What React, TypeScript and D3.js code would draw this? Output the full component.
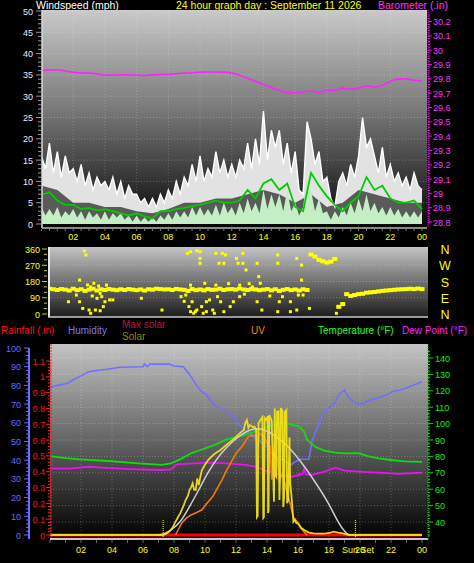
import React from "react";
import * as d3 from "d3";

const FONT = "'Liberation Sans', Arial, sans-serif";

const hourLabels = ["02", "04", "06", "08", "10", "12", "14", "16", "18", "20", "22", "00"];
const windTicks = [0, 5, 10, 15, 20, 25, 30, 35, 40, 45, 50];
const baroTicks = [28.8, 28.9, 29, 29.1, 29.2, 29.3, 29.4, 29.5, 29.6, 29.7, 29.8, 29.9, 30, 30.1, 30.2];
const dirTicks = [0, 90, 180, 270, 360];
const compassLetters = ["N", "E", "S", "W", "N"];
const humTicks = [0, 10, 20, 30, 40, 50, 60, 70, 80, 90, 100];
const rainTicks = [0, 0.1, 0.2, 0.3, 0.4, 0.5, 0.6, 0.7, 0.8, 0.9, 1, 1.1];
const tempTicks = [40, 50, 60, 70, 80, 90, 100, 110, 120, 130, 140];

// wind gust, every 15 minutes (mph)
const windGust = [
  16, 13, 19, 12, 17, 11, 16, 12, 13, 10, 14, 9, 12, 8, 11, 9, 10, 8, 11, 7, 10, 6, 9, 7,
  7, 5, 6, 4, 6, 4, 7, 5, 8, 6, 10, 7, 11, 9, 14, 10, 16, 10, 13, 11, 17, 12, 15, 11,
  14, 11, 15, 13, 19, 13, 20, 14, 26.5, 15, 22, 18, 22, 14, 19, 12, 17, 8, 7, 24,
  20, 14, 17, 10, 11, 6, 4, 10, 12, 9, 14, 11, 16, 25, 18, 20, 16, 12, 18, 11,
  14, 10, 12, 9, 11, 8, 12, 9, 8,
];
// dark shading under gusts, hourly
const windShade = [9, 8, 5, 5, 4, 4, 3, 2.5, 3.5, 5, 5, 6, 6, 7, 8, 7, 5, 7, 4, 5, 8, 7, 6, 5, 5];
// wind speed, every 15 minutes
const windSpeed = [
  4, 2, 3.5, 2, 4, 1.5, 3, 2, 3.5, 1.5, 3, 1, 3, 1.5, 2.5, 1, 3, 1, 2.5, 1.5, 2.5, 1, 2, 0.5,
  2, 0.5, 1.5, 0.5, 1.5, 0.5, 2, 1, 2.5, 1, 3, 1.5, 3, 1.5, 4, 2, 4, 2, 3.5, 2, 4.5, 2, 5, 2.5,
  4, 2, 5, 2.5, 6, 3, 5, 2.5, 8, 3.5, 7, 4, 7, 3, 8, 3, 5, 2, 4, 11, 8, 3, 6, 2.5,
  3, 1, 3, 1.5, 4, 2, 5, 2.5, 6, 3, 7, 3, 5, 2.5, 4, 2, 4, 2, 3.5, 1.5, 3, 1.5, 3, 1.5, 3,
];
// average wind, every 30 minutes
const windAvg = [
  6.8, 7.5, 5.5, 4.5, 4.5, 3.5, 3.8, 3.2, 3.5, 3.0, 2.5, 2.0, 2.5, 1.8, 1.3, 3.0, 3.0, 3.5,
  3.8, 4.2, 4.5, 5.0, 5.5, 5.0, 5.0, 5.5, 8.0, 6.0, 9.5, 10.5, 8.0, 9.5, 4.0, 3.0, 12.0, 9.0,
  6.5, 4.5, 3.0, 5.0, 6.5, 11.0, 8.0, 9.0, 6.0, 5.0, 5.0, 5.5, 3.5,
];
// barometer, every 30 minutes (in)
const barometer = [
  29.86, 29.862, 29.864, 29.855, 29.845, 29.842, 29.84, 29.835, 29.826, 29.826, 29.828, 29.828,
  29.826, 29.824, 29.828, 29.83, 29.832, 29.836, 29.84, 29.843, 29.847, 29.848, 29.848, 29.847,
  29.842, 29.825, 29.805, 29.782, 29.76, 29.74, 29.72, 29.705, 29.703, 29.71, 29.715, 29.706,
  29.72, 29.72, 29.735, 29.728, 29.735, 29.75, 29.742, 29.757, 29.782, 29.8, 29.8, 29.79, 29.785,
];
// wind direction, every 15 minutes (deg)
const windDir = [
  138, 135, 140, 137, 133, 138, 135, 130, 140, 132, 137, 128, 135, 140, 130, 137,
  133, 138, 135, 132, 137, 133, 138, 135, 132, 136, 130, 137, 135, 140, 138, 136,
  137, 133, 139, 136, 134, 128, 138, 132, 136, 131, 138, 134, 135, 140, 133, 137,
  138, 135, 141, 136, 133, 138, 136, 132, 135, 138, 131, 137, 128, 134, 138, 132,
  136, 130, 137, 133, 330, 318, 300, 292, 285, 290, 305, 40, 55, 110, 100, 105,
  110, 112, 118, 120, 122, 125, 128, 130, 132, 134, 136, 137, 138, 140, 138, 141, 138,
];
// scattered direction readings [hour, deg]
const windDirScatter: [number, number][] = [
  [1.7, 68], [2.4, 188], [2.4, 68], [2.6, 31], [2.7, 350], [2.8, 327], [2.9, 161], [3.0, 22],
  [3.1, 4], [3.1, 150], [3.3, 170], [3.4, 22], [3.5, 87], [3.6, 155], [3.7, 114], [3.7, 18],
  [3.8, 96], [3.9, 41], [4.0, 68], [4.3, 78], [4.5, 78], [2.2, 105], [3.2, 100], [4.1, 160],
  [6.3, 87], [7.6, 22], [8.8, 96], [9.0, 70], [9.1, 105], [9.2, 336], [9.3, 41], [9.4, 345],
  [9.4, 13], [9.5, 68], [9.6, 4], [9.7, 13], [9.8, 351], [9.8, 22], [10.0, 345], [10.0, 308],
  [10.0, 281], [10.1, 41], [10.2, 4], [10.4, 13], [10.4, 68], [10.6, 78], [10.8, 22], [10.9, 4],
  [11.0, 336], [11.1, 96], [11.2, 281], [11.3, 68], [11.4, 336], [11.5, 281], [11.5, 13],
  [11.6, 327], [11.9, 41], [12.1, 68], [9.4, 160], [10.3, 170], [11.0, 160], [11.8, 168],
  [12.3, 308], [12.4, 281], [12.7, 336], [12.7, 281], [12.9, 244], [12.5, 160], [12.8, 110],
  [13.1, 168], [13.6, 281], [13.7, 207], [12.5, 96], [13.6, 68], [13.9, 22], [13.3, 150],
  [13.8, 170], [14.9, 327], [14.9, 281], [16.1, 308], [16.4, 271], [16.4, 188], [15.0, 68],
  [15.7, 68], [16.2, 105], [16.5, 105], [14.9, 13], [15.7, 13], [16.1, 22], [16.9, 31],
  [15.2, 96], [14.4, 100], [18.6, 4],
];

const humidity: [number, number][] = [
  [0, 79], [0.5, 80], [1.1, 81], [1.5, 83], [1.9, 84.7], [2.5, 87.3], [3.0, 88], [3.7, 88.6],
  [4.5, 89.7], [5.2, 89.8], [6.0, 90], [6.1, 91.4], [6.3, 90], [6.45, 91.4], [7.0, 91.4],
  [7.7, 91.4], [8.0, 90.4], [8.6, 90], [9.03, 85.6], [9.46, 80], [9.68, 77.5], [10.1, 74.9],
  [10.5, 70.4], [10.75, 68.4], [11.35, 66.8], [11.8, 63.3], [12.25, 58.8], [12.7, 55.3],
  [13.1, 52.6], [13.55, 49.9], [14.0, 47.2], [14.4, 42.8], [14.8, 41], [15.2, 39.2], [15.5, 37.4],
  [15.7, 38.5], [16.1, 40.5], [16.7, 40.5], [16.9, 50], [17.1, 54.4], [17.4, 60.6], [17.75, 66.8],
  [18.3, 70], [18.7, 75.7], [19.0, 77.5], [19.3, 73.2], [19.8, 70], [20.2, 70.4], [20.6, 72],
  [21.3, 73.6], [21.7, 74.9], [22.1, 76.7], [22.6, 77.5], [23.2, 79.3], [24, 82],
];
const temperature: [number, number][] = [
  [0, 80.2], [1, 79], [1.9, 78.2], [3.8, 77.2], [5.7, 75.8], [7.2, 74.8], [7.8, 75.8], [8.4, 78.2],
  [9.1, 81.9], [9.7, 83.9], [10.6, 86.9], [11.4, 90.4], [12.3, 92.4], [12.9, 94.1], [13.5, 96.1],
  [14.2, 98.5], [14.8, 100.2], [15.4, 99.8], [16.1, 98.1], [16.4, 95.1], [16.6, 90], [17.1, 85.9],
  [17.7, 83.5], [18.4, 82.3], [19.0, 81.9], [19.9, 82], [20.5, 80.2], [21.2, 78.8], [22.0, 77.8],
  [22.9, 77], [24, 76.7],
];
const dewPoint: [number, number][] = [
  [0, 72.7], [1.2, 72.5], [2.5, 73.7], [3.6, 73], [5.1, 72.3], [7.2, 71.7], [7.8, 72], [8.2, 75.2],
  [9.3, 75.8], [10.3, 76.2], [11.4, 75.8], [12.6, 74.8], [13.3, 73.7], [13.9, 71.3], [14.8, 68.7],
  [15.6, 67.6], [16.3, 69.3], [16.4, 72.7], [16.5, 69], [16.9, 68.7], [17.7, 70.7], [18.4, 73.1],
  [19.0, 71.3], [19.9, 70.7], [21.2, 70.1], [22.5, 69.3], [24, 70.1],
];
const maxSolar: [number, number][] = [
  [7.0, 0], [7.4, 10], [7.8, 40], [8.4, 100], [9.0, 238], [9.6, 378], [10.2, 532], [11.0, 686],
  [11.9, 804], [12.7, 876], [13.3, 896], [13.7, 894], [14.5, 840], [15.4, 742], [16.2, 616],
  [17.1, 448], [18.0, 266], [18.6, 98], [19.1, 14], [19.3, 0],
];
const solar: [number, number][] = [
  [0, 0], [7.3, 0], [7.5, 10], [7.7, 28], [7.9, 60], [8.1, 112], [8.3, 160], [8.4, 182], [8.6, 240],
  [8.75, 294], [8.9, 330], [9.0, 378], [9.1, 400], [9.2, 434], [9.3, 380], [9.4, 378], [9.5, 476],
  [9.6, 420], [9.7, 490], [9.8, 546], [10.0, 590], [10.2, 630], [10.6, 680], [11.0, 714],
  [11.5, 770], [11.9, 812], [12.2, 850], [12.5, 882], [12.6, 940], [12.7, 966], [12.8, 900],
  [12.9, 924], [13.1, 905], [13.2, 910], [13.3, 880], [13.35, 150], [13.4, 160], [13.45, 938],
  [13.55, 960], [13.7, 990], [13.76, 143], [13.8, 150], [13.85, 983], [13.95, 966], [14.05, 1000],
  [14.07, 185], [14.1, 200], [14.15, 1008], [14.3, 960], [14.45, 280], [14.5, 1064], [14.55, 500],
  [14.6, 490], [14.65, 1036], [14.75, 1040], [14.8, 294], [14.84, 462], [14.9, 1067], [15.0, 1040],
  [15.05, 235], [15.1, 320], [15.15, 1034], [15.25, 1050], [15.3, 266], [15.37, 294], [15.45, 820],
  [15.5, 434], [15.6, 300], [15.7, 110], [15.8, 126], [15.9, 100], [16.0, 98], [16.2, 60],
  [16.4, 42], [16.7, 20], [17.0, 14], [17.5, 12], [17.8, 14], [18.1, 20], [18.3, 28], [18.6, 20],
  [18.9, 14], [19.1, 6], [19.3, 0], [24, 0],
];
const uvIndex: [number, number][] = [
  [0, 0], [8.1, 0], [8.3, 0.5], [8.5, 1.0], [8.8, 1.4], [9.1, 1.67], [9.5, 1.9], [9.8, 2.1],
  [10.1, 2.6], [10.5, 3.2], [10.8, 3.9], [11.1, 4.6], [11.4, 5.4], [11.7, 6.1], [12.0, 6.8],
  [12.4, 7.4], [12.8, 8.2], [13.0, 8.3], [13.3, 8.3], [13.4, 7.4], [13.5, 8.5], [13.8, 8.2],
  [14.0, 7.6], [14.2, 7.4], [14.3, 4.6], [14.4, 6.9], [14.6, 6.5], [14.7, 6.25], [14.8, 4.6],
  [15.0, 5.1], [15.3, 3.5], [15.5, 2.6], [15.7, 1.5], [16.0, 1.0], [16.2, 0.55], [16.5, 0.1],
  [16.6, 0], [24, 0],
];
const rainfall: [number, number][] = [[0, 0], [24, 0]];
const sunEvents = [7.3, 19.7];

const fmt = (v: number) => String(Number(v.toFixed(2)));

export default function App() {
  const W = 474;
  const H = 563;

  const top = { x0: 42, x1: 427, y0: 10, y1: 228 };
  const mid = { x0: 48, x1: 428, y0: 247, y1: 317 };
  const bot = { x0: 50, x1: 428, y0: 344, y1: 539 };

  const xTop = d3.scaleLinear().domain([0, 24]).range([41.5, 422]);
  const yWind = d3.scaleLinear().domain([0, 50]).range([224, 11]);
  const yBaro = d3.scaleLinear().domain([28.8, 30.2]).range([222, 21.6]);
  const yDir = d3.scaleLinear().domain([0, 360]).range([314, 249]);
  const xBot = d3.scaleLinear().domain([0, 24]).range([50, 422]);
  const yHum = d3.scaleLinear().domain([0, 100]).range([535, 348]);
  const yRain = d3.scaleLinear().domain([0, 1.1]).range([535, 361]);
  const yTemp = d3.scaleLinear().domain([40, 140]).range([522, 358]);
  const ySolar = d3.scaleLinear().domain([0, 1000]).range([535, 416]);
  const yUV = d3.scaleLinear().domain([0, 10]).range([535, 415]);

  const gustArea = d3
    .area<number>()
    .x((_, i) => xTop(i * 0.25))
    .y0(yWind(0))
    .y1((d) => yWind(d));
  const gustLine = d3
    .line<number>()
    .x((_, i) => xTop(i * 0.25))
    .y((d) => yWind(d));
  const shadeArea = d3
    .area<number>()
    .x((_, i) => xTop(i))
    .y0(yWind(0))
    .y1((d) => yWind(d));
  const speedArea = d3
    .area<number>()
    .x((_, i) => xTop(i * 0.25))
    .y0(yWind(0))
    .y1((d) => yWind(d));
  const avgLine = d3
    .line<number>()
    .x((_, i) => xTop(i * 0.5))
    .y((d) => yWind(d));
  const baroLine = d3
    .line<number>()
    .x((_, i) => xTop(i * 0.5))
    .y((d) => yBaro(d))
    .curve(d3.curveMonotoneX);

  const pairLine = (y: d3.ScaleLinear<number, number>, curve: d3.CurveFactory = d3.curveLinear) =>
    d3
      .line<[number, number]>()
      .x((d) => xBot(d[0]))
      .y((d) => y(d[1]))
      .curve(curve);

  const minorWind = d3.range(0, 51, 1);
  const minorBaro = d3.range(28.8, 30.25, 0.02);
  const minorDir = d3.range(0, 361, 30);
  const minorHum = d3.range(0, 101, 2);
  const minorRain = d3.range(0, 1.11, 0.02);
  const minorTemp = d3.range(32, 146, 2);
  const gridHours = d3.range(2, 24, 2);

  return (
    <svg
      width={W}
      height={H}
      style={{ position: "absolute", left: 0, top: 0, background: "#000" }}
      fontFamily={FONT}
    >
      <defs>
        <linearGradient id="gTop" x1="0" y1="0" x2="0" y2="1">
          <stop offset="0" stopColor="#c9c9c9" />
          <stop offset="0.45" stopColor="#7a7a7a" />
          <stop offset="1" stopColor="#050505" />
        </linearGradient>
        <linearGradient id="gMid" x1="0" y1="0" x2="0" y2="1">
          <stop offset="0" stopColor="#c4c4c4" />
          <stop offset="1" stopColor="#1c1c1c" />
        </linearGradient>
        <linearGradient id="gBot" x1="0" y1="0" x2="0" y2="1">
          <stop offset="0" stopColor="#c4c4c4" />
          <stop offset="0.5" stopColor="#636363" />
          <stop offset="1" stopColor="#000" />
        </linearGradient>
        <clipPath id="cTop">
          <rect x={top.x0} y={top.y0} width={top.x1 - top.x0} height={top.y1 - top.y0} />
        </clipPath>
        <clipPath id="cMid">
          <rect x={mid.x0 + 2} y={mid.y0} width={mid.x1 - mid.x0 - 2} height={mid.y1 - mid.y0} />
        </clipPath>
        <clipPath id="cBot">
          <rect x={bot.x0} y={bot.y0} width={bot.x1 - bot.x0} height={bot.y1 - bot.y0} />
        </clipPath>
      </defs>
      <rect x={0} y={0} width={W} height={H} fill="#000" />

      {/* ================= TOP PANEL ================= */}
      <text x={36} y={9} fill="#ffffff" fontSize={10.5}>Windspeed (mph)</text>
      <text x={176} y={9} fill="#ffff00" fontSize={10.5}>24 hour graph day : September 11 2026</text>
      <text x={378} y={9} fill="#ff33ff" fontSize={10.5}>Barometer (.in)</text>

      <rect x={top.x0} y={top.y0} width={top.x1 - top.x0} height={top.y1 - top.y0} fill="url(#gTop)" />
      <g clipPath="url(#cTop)">
        {windTicks.slice(1).map((t) => (
          <line key={t} x1={top.x0} x2={top.x1} y1={yWind(t)} y2={yWind(t)} stroke="#ffffff" strokeOpacity={0.25} strokeDasharray="1,2" />
        ))}
        {gridHours.map((hh) => (
          <line key={hh} x1={xTop(hh)} x2={xTop(hh)} y1={top.y0} y2={top.y1} stroke="#ffffff" strokeOpacity={0.2} strokeDasharray="1,2" />
        ))}
        <path d={gustArea(windGust) || ""} fill="#e2e2e2" />
        <path d={shadeArea(windShade) || ""} fill="#000" fillOpacity={0.6} />
        <path d={speedArea(windSpeed) || ""} fill="#c4eec4" />
        <path d={gustLine(windGust) || ""} fill="none" stroke="#ffffff" strokeWidth={1.4} />
        <path d={avgLine(windAvg) || ""} fill="none" stroke="#00cc00" strokeWidth={1.8} />
        <path d={baroLine(barometer) || ""} fill="none" stroke="#ff22ff" strokeWidth={1.6} />
      </g>
      <line x1={top.x0} x2={top.x0} y1={top.y0} y2={top.y1} stroke="#dcdcdc" strokeWidth={1.5} />
      <line x1={top.x0} x2={top.x1} y1={top.y1} y2={top.y1} stroke="#b8b8b8" strokeWidth={1.5} />
      {minorWind.map((t) => (
        <line key={t} x1={t % 5 === 0 ? 36 : 38} x2={41} y1={yWind(t)} y2={yWind(t)} stroke="#9a9a9a" />
      ))}
      {windTicks.map((t) => (
        <text key={t} x={33} y={yWind(t) + 3.5} fill="#e4ecff" fontSize={9} textAnchor="end">{t}</text>
      ))}
      <line x1={428} x2={428} y1={top.y0} y2={top.y1} stroke="#ff00ff" strokeDasharray="1,1" />
      {minorBaro.map((t, i) => (
        <line key={i} x1={428} x2={430} y1={yBaro(t)} y2={yBaro(t)} stroke="#ff00ff" />
      ))}
      {baroTicks.map((t) => (
        <g key={t}>
          <line x1={428} x2={432} y1={yBaro(t)} y2={yBaro(t)} stroke="#ff00ff" />
          <text x={433} y={yBaro(t) + 3.5} fill="#ff33ff" fontSize={9}>{fmt(t)}</text>
        </g>
      ))}
      {d3.range(0, 24.01, 0.5).map((hh) => (
        <line key={hh} x1={xTop(hh)} x2={xTop(hh)} y1={top.y1 + 1} y2={top.y1 + 3} stroke="#777" />
      ))}
      {hourLabels.map((lb, i) => (
        <text key={lb + i} x={xTop((i + 1) * 2)} y={240} fill="#ffff00" fontSize={9} textAnchor="middle">{lb}</text>
      ))}

      {/* ================= MIDDLE PANEL ================= */}
      <rect x={mid.x0} y={mid.y0} width={mid.x1 - mid.x0} height={mid.y1 - mid.y0} fill="url(#gMid)" />
      <g clipPath="url(#cMid)">
        {[90, 180, 270].map((t) => (
          <line key={t} x1={mid.x0} x2={mid.x1} y1={yDir(t)} y2={yDir(t)} stroke="#ffffff" strokeOpacity={0.25} strokeDasharray="1,2" />
        ))}
        {windDir.map((d, i) => (
          <rect key={i} x={xTop(i * 0.25) - 2.5} y={yDir(d) - 2} width={5} height={4} fill="#ffff00" />
        ))}
        {windDirScatter.map((p, i) => (
          <rect key={"s" + i} x={xTop(p[0]) - 1.5} y={yDir(p[1]) - 1.5} width={3} height={3} fill="#ffff00" />
        ))}
      </g>
      <rect x={mid.x0} y={mid.y0} width={2} height={mid.y1 - mid.y0} fill="#e8e8e8" />
      <line x1={mid.x0} x2={mid.x1} y1={mid.y1} y2={mid.y1} stroke="#c8c8c8" strokeWidth={1.5} />
      {minorDir.map((t) => (
        <line key={t} x1={t % 90 === 0 ? 42 : 44} x2={47} y1={yDir(t)} y2={yDir(t)} stroke="#cccc00" />
      ))}
      {dirTicks.map((t) => (
        <text key={t} x={40} y={yDir(t) + 3.5} fill="#ffff00" fontSize={9} textAnchor="end">{t}</text>
      ))}
      {dirTicks.map((t, i) => (
        <text key={"c" + t} x={445} y={yDir(t) + 5} fill="#ffff00" fontSize={12.5} textAnchor="middle">{compassLetters[i]}</text>
      ))}

      {/* ================= LEGEND ================= */}
      <text x={1} y={334} fill="#ff1010" fontSize={10}>Rainfall (.in)</text>
      <text x={68} y={334} fill="#7878ff" fontSize={10}>Humidity</text>
      <text x={122} y={328} fill="#c0103c" fontSize={10}>Max solar</text>
      <text x={122} y={340} fill="#8c8c00" fontSize={10}>Solar</text>
      <text x={251} y={334} fill="#ff8000" fontSize={10}>UV</text>
      <text x={318} y={334} fill="#20ff20" fontSize={10}>Temperature (°F)</text>
      <text x={402} y={334} fill="#ff22ff" fontSize={10}>Dew Point (°F)</text>

      {/* ================= BOTTOM PANEL ================= */}
      <rect x={bot.x0} y={bot.y0} width={bot.x1 - bot.x0} height={bot.y1 - bot.y0} fill="url(#gBot)" />
      <g clipPath="url(#cBot)">
        {tempTicks.map((t) => (
          <line key={t} x1={bot.x0} x2={bot.x1} y1={yTemp(t)} y2={yTemp(t)} stroke="#ffffff" strokeOpacity={0.25} strokeDasharray="1,2" />
        ))}
        {gridHours.map((hh) => (
          <line key={hh} x1={xBot(hh)} x2={xBot(hh)} y1={bot.y0} y2={bot.y1} stroke="#ffffff" strokeOpacity={0.22} strokeDasharray="1,2" />
        ))}
        <path d={pairLine(yRain)(rainfall) || ""} fill="none" stroke="#ff0000" strokeWidth={3} />
        <path d={pairLine(yHum)(humidity) || ""} fill="none" stroke="#7070ff" strokeWidth={1.6} />
        <path d={pairLine(yTemp)(temperature) || ""} fill="none" stroke="#10dd10" strokeWidth={1.8} />
        <path d={pairLine(yTemp)(dewPoint) || ""} fill="none" stroke="#ee10ee" strokeWidth={1.8} />
        <path d={pairLine(ySolar, d3.curveBasis)(maxSolar) || ""} fill="none" stroke="#cfcfcf" strokeWidth={1.5} />
        <path d={pairLine(yUV)(uvIndex.filter((d) => d[0] > 7.5 && d[0] < 17)) || ""} fill="none" stroke="#f07a10" strokeWidth={1.6} />
        <path d={pairLine(ySolar)(solar) || ""} fill="none" stroke="#f4e418" strokeWidth={1.8} strokeOpacity={0.92} />
        {sunEvents.map((s) => (
          <line key={s} x1={xBot(s)} x2={xBot(s)} y1={520} y2={538} stroke="#ffff00" strokeDasharray="1,1" />
        ))}
      </g>
      <line x1={bot.x0} x2={bot.x1} y1={bot.y1} y2={bot.y1} stroke="#c8c8c8" strokeWidth={2} />
      {d3.range(0, 24.01, 1).map((hh) => (
        <line key={hh} x1={xBot(hh)} x2={xBot(hh)} y1={bot.y1 + 1} y2={bot.y1 + 4} stroke="#666" />
      ))}
      <line x1={29} x2={29} y1={348} y2={bot.y1} stroke="#6a6aff" strokeWidth={2} />
      {minorHum.map((t) => (
        <line key={t} x1={t % 10 === 0 ? 24 : 26} x2={29} y1={yHum(t)} y2={yHum(t)} stroke="#6a6aff" />
      ))}
      {humTicks.map((t) => (
        <text key={t} x={21} y={yHum(t) + 3.5} fill="#6a6aff" fontSize={9} textAnchor="end">{t}</text>
      ))}
      <line x1={51} x2={51} y1={bot.y0} y2={bot.y1} stroke="#ff2020" strokeDasharray="2,1" />
      {minorRain.map((t, i) => (
        <line key={i} x1={i % 5 === 0 ? 46 : 48} x2={51} y1={yRain(t)} y2={yRain(t)} stroke="#ff2020" />
      ))}
      {rainTicks.map((t) => (
        <text key={t} x={45} y={yRain(t) + 3.5} fill="#ff1010" fontSize={9} textAnchor="end">{fmt(t)}</text>
      ))}
      <line x1={428} x2={428} y1={bot.y0} y2={bot.y1} stroke="#10dd10" strokeDasharray="1,1" />
      {minorTemp.map((t) => (
        <line key={t} x1={428} x2={t % 10 === 0 ? 433 : 430} y1={yTemp(t)} y2={yTemp(t)} stroke="#10dd10" />
      ))}
      {tempTicks.map((t) => (
        <text key={t} x={435} y={yTemp(t) + 3.5} fill="#10ee10" fontSize={9}>{t}</text>
      ))}
      {hourLabels.map((lb, i) => (
        <text key={lb + i} x={xBot((i + 1) * 2)} y={553} fill="#ffff00" fontSize={9} textAnchor="middle">{lb}</text>
      ))}
      <text x={342} y={553} fill="#ffff00" fontSize={9}>Sun Set</text>
    </svg>
  );
}
